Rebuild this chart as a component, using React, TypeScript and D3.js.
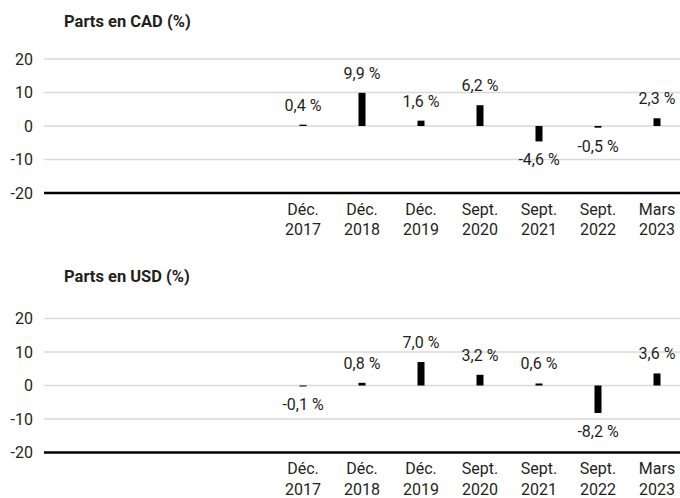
import * as React from "react";
import * as d3 from "d3";

// periods (two-line labels)
const months = ["Déc.", "Déc.", "Déc.", "Sept.", "Sept.", "Sept.", "Mars"];
const years = ["2017", "2018", "2019", "2020", "2021", "2022", "2023"];
const cadValues = [0.4, 9.9, 1.6, 6.2, -4.6, -0.5, 2.3];
const usdValues = [-0.1, 0.8, 7.0, 3.2, 0.6, -8.2, 3.6];
const yTicks = [20, 10, 0, -10, -20];
const emptySlots = 4; // blank categories on the left of the axis

const width = 680;
const height = 498;
const font = "Roboto, 'Liberation Sans', sans-serif";
const textColor = "#231f20";
const fontSize = 16;

const fmt = (v: number) => v.toFixed(1).replace(".", ",") + " %";

function Panel({
	title,
	values,
	top,
	titleY,
}: {
	title: string;
	values: number[];
	top: number;
	titleY: number;
}) {
	const gridLeft = 44;
	const gridRight = 680;
	const barWidth = 7;

	const slots = d3.range(emptySlots + values.length).map(String);
	const xScale = d3.scaleBand().domain(slots).range([37.5, 686.5]);
	const yScale = d3.scaleLinear().domain([20, -20]).range([top, top + 134]);
	const cx = (i: number) =>
		(xScale(String(i + emptySlots)) || 0) + xScale.bandwidth() / 2;
	const axisY = yScale(-20);

	return (
		<g>
			<text
				x={64}
				y={titleY}
				fontWeight="bold"
				fontSize={16.5}
				fill={textColor}
			>
				{title}
			</text>
			{yTicks.map((t) => (
				<g key={t}>
					{t !== -20 && (
						<line
							x1={gridLeft}
							x2={gridRight}
							y1={yScale(t)}
							y2={yScale(t)}
							stroke="#d9d9d9"
							strokeWidth={1.5}
						/>
					)}
					<text
						x={33}
						y={yScale(t)}
						dy="0.36em"
						textAnchor="end"
						fontSize={fontSize}
						fill={textColor}
					>
						{t}
					</text>
				</g>
			))}
			{values.map((v, i) => {
				const y0 = yScale(0);
				const y1 = yScale(v);
				const h = Math.max(1, Math.abs(y1 - y0));
				return (
					<g key={i}>
						<rect
							x={cx(i) - barWidth / 2}
							y={v >= 0 ? y0 - h : y0}
							width={barWidth}
							height={h}
							fill="#000"
						/>
						<text
							x={cx(i)}
							y={v >= 0 ? y1 - 14 : y1 + 24}
							textAnchor="middle"
							fontSize={fontSize}
							fill={textColor}
						>
							{fmt(v)}
						</text>
					</g>
				);
			})}
			<line
				x1={gridLeft}
				x2={gridRight}
				y1={axisY}
				y2={axisY}
				stroke="#000"
				strokeWidth={2.5}
			/>
			{months.map((m, i) => (
				<text
					key={i}
					x={cx(i)}
					y={axisY + 21.5}
					textAnchor="middle"
					fontSize={fontSize}
					fill={textColor}
				>
					<tspan x={cx(i)}>{m}</tspan>
					<tspan x={cx(i)} dy={20.5}>
						{years[i]}
					</tspan>
				</text>
			))}
		</g>
	);
}

export default function App() {
	return (
		<svg
			width={width}
			height={height}
			fontFamily={font}
			style={{ position: "absolute", left: 0, top: 0, background: "#fff" }}
		>
			<Panel title="Parts en CAD (%)" values={cadValues} top={59} titleY={27} />
			<Panel title="Parts en USD (%)" values={usdValues} top={318.5} titleY={282} />
		</svg>
	);
}
